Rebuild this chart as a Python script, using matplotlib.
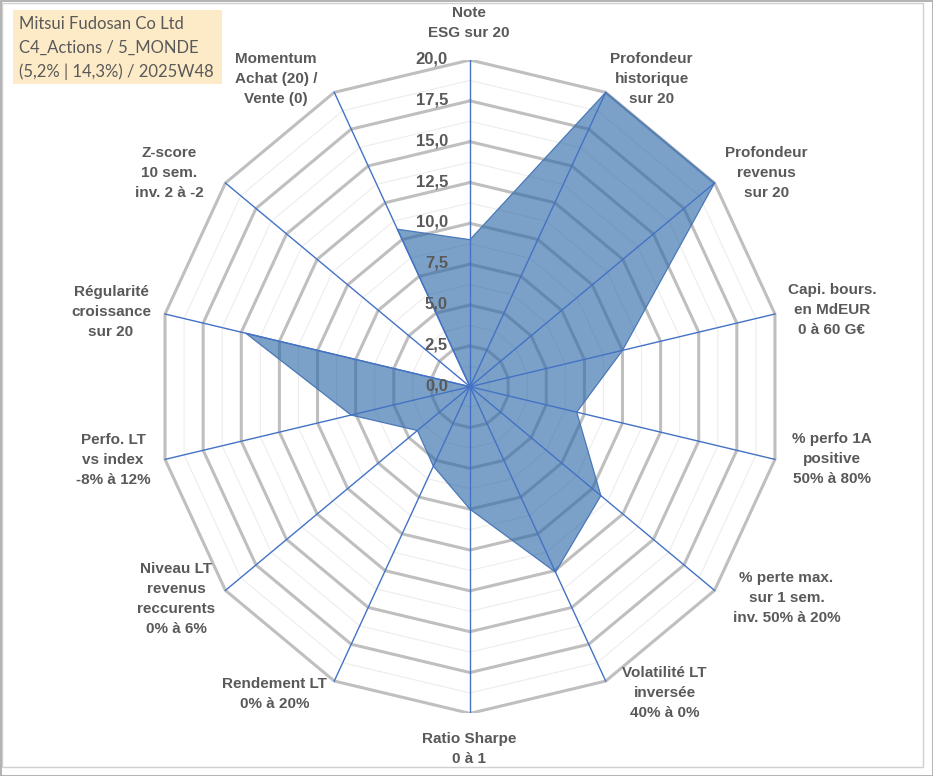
import numpy as np
import matplotlib.pyplot as plt
from matplotlib.patches import Rectangle

# axes of the radar, clockwise from the top
axis_labels = [
    "Note\nESG sur 20",
    "Profondeur\nhistorique\nsur 20",
    "Profondeur\nrevenus\nsur 20",
    "Capi. bours.\nen MdEUR\n0 à 60 G€",
    "% perfo 1A\npositive\n50% à 80%",
    "% perte max.\nsur 1 sem.\ninv. 50% à 20%",
    "Volatilité LT\ninversée\n40% à 0%",
    "Ratio Sharpe\n0 à 1",
    "Rendement LT\n0% à 20%",
    "Niveau LT\nrevenus\nreccurents\n0% à 6%",
    "Perfo. LT\nvs index\n-8% à 12%",
    "Régularité\ncroissance\nsur 20",
    "Z-score\n10 sem.\ninv. 2 à -2",
    "Momentum\nAchat (20) /\nVente (0)",
]
scores = [9.0, 20.0, 20.0, 10.0, 7.0, 10.7, 12.6, 7.5, 5.4, 4.3, 7.8, 14.7, 0.0, 10.7]

major_ticks = [0.0, 2.5, 5.0, 7.5, 10.0, 12.5, 15.0, 17.5, 20.0]
major_labels = ["0,0", "2,5", "5,0", "7,5", "10,0", "12,5", "15,0", "17,5", "20,0"]
minor_ticks = [1.25, 3.75, 6.25, 8.75, 11.25, 13.75, 16.25, 18.75]
rmax = 20.0

title_lines = ["Mitsui Fudosan Co Ltd", "C4_Actions / 5_MONDE", "(5,2% | 14,3%) / 2025W48"]

# label offsets from the outer vertex, in pixels (x right, y up)
label_offsets = [(-1, 37), (46, 13), (52, 10), (57, 4), (57, 0), (72, -8), (59, -12),
                 (-1, -36), (-60, -13), (-49, -9), (-52, -1), (-54, 2), (-56, 10), (-58, 13)]

txt_color = "#595959"
grid_color = "#BFBFBF"
spoke_color = "#4472C4"

W, H = 933, 776
fig = plt.figure(figsize=(W / 100, H / 100), dpi=100)
fig.patch.set_facecolor("white")

# chart area border
fig.add_artist(Rectangle((2 / W, 9 / H), 921 / W, 764 / H, transform=fig.transFigure,
                         fill=False, edgecolor="#D0D0D0", lw=1.0))
fig.add_artist(Rectangle((0.5 / W, 0.5 / H), (W - 1) / W, (H - 1) / H, transform=fig.transFigure,
                         fill=False, edgecolor="#A6A6A6", lw=1.2))

# radar drawn in a plain axes, slightly taller than wide like the source
cx, cy, rx, ry = 470, 776 - 386.7, 312.8, 326.7
ax = fig.add_axes([(cx - rx) / W, (cy - ry) / H, 2 * rx / W, 2 * ry / H])
ax.set_xlim(-rmax, rmax)
ax.set_ylim(-rmax, rmax)
ax.axis("off")

n = len(axis_labels)
theta = np.arange(n) * 2 * np.pi / n
ux, uy = np.sin(theta), np.cos(theta)
ux_c, uy_c = np.append(ux, ux[0]), np.append(uy, uy[0])

for r in minor_ticks:
    ax.plot(r * ux_c, r * uy_c, color="#EDEDED", lw=0.8, zorder=1)
for r in major_ticks[1:]:
    ax.plot(r * ux_c, r * uy_c, color=grid_color, lw=2.2, zorder=2, solid_joinstyle="miter")

vals = np.array(scores)
ax.fill(vals * ux, vals * uy, facecolor="#2E6AA8", alpha=0.63, edgecolor="none", zorder=3)
ax.plot(np.append(vals * ux, vals[0] * ux[0]), np.append(vals * uy, vals[0] * uy[0]),
        color="#4A78B8", lw=0.9, zorder=4)

for i in range(n):
    ax.plot([0, rmax * ux[i]], [0, rmax * uy[i]], color=spoke_color, lw=1.0, zorder=5)

for r, lab in zip(major_ticks, major_labels):
    ax.annotate(lab, xy=(0, r), xytext=(-22, 1), textcoords="offset pixels",
                ha="right", va="center", fontsize=12, fontweight="bold",
                color=txt_color, family="Liberation Sans", zorder=6)

for i, lab in enumerate(axis_labels):
    ax.annotate(lab, xy=(rmax * ux[i], rmax * uy[i]), xytext=label_offsets[i],
                textcoords="offset pixels", ha="center", va="center",
                multialignment="center", linespacing=1.55, fontsize=11,
                fontweight="bold", color=txt_color, family="Liberation Sans",
                annotation_clip=False)

# title box top left
fig.add_artist(Rectangle((13 / W, 1 - 84 / H), 209 / W, 74 / H, transform=fig.transFigure,
                         facecolor="#FDEBC8", edgecolor="none"))
for k, line in enumerate(title_lines):
    fig.text(19 / W, 1 - (24 + 24 * k) / H, line, ha="left", va="center",
             fontsize=12, color=txt_color, family="Lato")

fig.savefig("out.png", dpi=100)
